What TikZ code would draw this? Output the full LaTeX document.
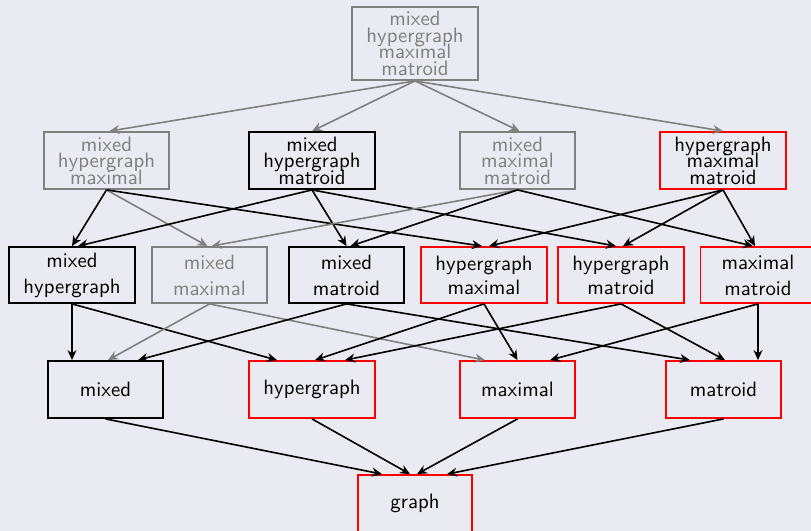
\documentclass[tikz,border=0pt]{standalone}
\usetikzlibrary{arrows.meta}
\definecolor{bg}{RGB}{234,234,242}
\lineskiplimit=-20pt\relax
\begin{document}
\begin{tikzpicture}[x=0.5pt,y=-0.5pt,
  box/.style={draw,line width=0.9pt,inner sep=0pt,align=center},
  tight/.style={font=\sffamily\fontsize{10.4}{8.3}\selectfont},
  loose/.style={font=\sffamily\fontsize{10.4}{13}\selectfont},
  blk/.style={box,draw=black,text=black},
  gryb/.style={box,draw=gray,text=gray},
  redb/.style={box,draw=red,text=black},
  w115/.style={minimum width=57.5pt},
  w126/.style={minimum width=63pt},
  h57/.style={minimum height=28.5pt},
  edge/.style={-{Stealth[length=5pt,width=4.5pt]},line width=0.8pt},
  ge/.style={edge,draw=gray},
  be/.style={edge,draw=black}]
\useasboundingbox (0,0) rectangle (811,531);
\clip (0,0) rectangle (811,531);
\fill[bg] (0,0) rectangle (811,531);

% top
\node[gryb,tight,w126,minimum height=36.5pt] (T) at (415,43.5) {mixed\\hypergraph\\maximal\\matroid};
% row 2
\node[gryb,tight,minimum width=62.5pt,h57] (A1) at (106.5,160.5) {mixed\\hypergraph\\maximal};
\node[blk,tight,w126,h57] (A2) at (312,160.5) {mixed\\hypergraph\\matroid};
\node[gryb,tight,w115,h57] (A3) at (517.5,160.5) {mixed\\maximal\\matroid};
\node[redb,tight,w126,h57] (A4) at (723,160.5) {hypergraph\\maximal\\matroid};
% row 3
\node[blk,loose,w126,minimum height=28pt] (B1) at (72,275) {mixed\\hypergraph};
\node[gryb,loose,w115,minimum height=28pt] (B2) at (209.5,275) {mixed\\maximal};
\node[blk,loose,w115,minimum height=28pt] (B3) at (346.5,275) {mixed\\matroid};
\node[redb,loose,w126,minimum height=28pt] (B4) at (484,275) {hypergraph\\[-1pt]maximal};
\node[redb,loose,w126,minimum height=28pt] (B5) at (621,275) {hypergraph\\[-1pt]matroid};
\node[redb,loose,w115,minimum height=28pt] (B6) at (758,275) {maximal\\matroid};
% row 4
\node[blk,loose,w115,h57] (C1) at (105.5,389.5) {mixed};
\node[redb,loose,w126,h57] (C2) at (312,389.5) {hypergraph};
\node[redb,loose,w115,h57] (C3) at (517.5,389.5) {maximal};
\node[redb,loose,w115,h57] (C4) at (723.5,389.5) {matroid};
% bottom
\node[redb,loose,minimum width=57pt,h57] (G) at (415,503.5) {graph};

% top -> row 2
\draw[ge] (T.south) -- ([xshift=1.5pt]A1.north);
\draw[ge] (T.south) -- (A2.north);
\draw[ge] (T.south) -- ([xshift=1pt]A3.north);
\draw[ge] (T.south) -- (A4.north);
% row 2 -> row 3
\draw[be] (A1.south) -- (B1.north);
\draw[ge] (A1.south) -- ([xshift=-1pt]B2.north);
\draw[be] (A1.south) -- ([xshift=-1pt]B4.north);
\draw[be] (A2.south) -- ([xshift=3pt]B1.north);
\draw[be] (A2.south) -- (B3.north);
\draw[be] (A2.south) -- ([xshift=-2.5pt]B5.north);
\draw[ge] (A3.south) -- ([xshift=1pt]B2.north);
\draw[be] (A3.south) -- ([xshift=2pt]B3.north);
\draw[be] (A3.south) -- ([xshift=-2.5pt]B6.north);
\draw[be] (A4.south) -- ([xshift=2.5pt]B4.north);
\draw[be] (A4.south) -- ([xshift=1pt]B5.north);
\draw[be] (A4.south) -- ([xshift=-1.5pt]B6.north);
% row 3 -> row 4
\draw[be] (B1.south) -- ([xshift=-16.75pt]C1.north);
\draw[be] (B1.south) -- ([xshift=-17.5pt]C2.north);
\draw[ge] (B2.south) -- ([xshift=1.25pt]C1.north);
\draw[ge] (B2.south) -- ([xshift=-16.25pt]C3.north);
\draw[be] (B3.south) -- ([xshift=16.25pt]C1.north);
\draw[be] (B3.south) -- ([xshift=-16.75pt]C4.north);
\draw[be] (B4.south) -- ([xshift=1.5pt]C2.north);
\draw[be] (B4.south) -- (C3.north);
\draw[be] (B5.south) -- ([xshift=16.5pt]C2.north);
\draw[be] (B5.south) -- ([xshift=0.75pt]C4.north);
\draw[be] (B6.south) -- ([xshift=16.25pt]C3.north);
\draw[be] (B6.south) -- ([xshift=17.25pt]C4.north);
% row 4 -> graph
\draw[be] (C1.south) -- ([xshift=-16.5pt]G.north);
\draw[be] (C2.south) -- ([xshift=-2.5pt]G.north);
\draw[be] (C3.south) -- ([xshift=1pt]G.north);
\draw[be] (C4.south) -- ([xshift=16pt]G.north);
\end{tikzpicture}
\end{document}
